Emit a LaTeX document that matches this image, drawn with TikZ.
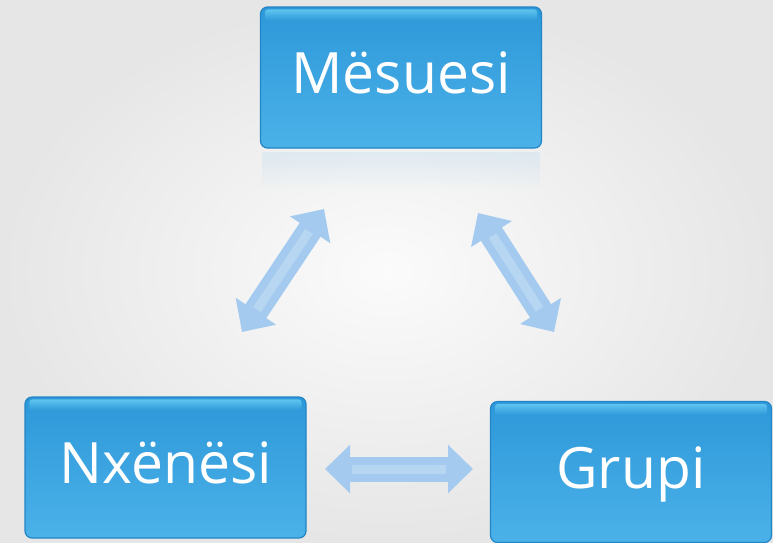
\documentclass[tikz,border=0pt]{standalone}
\usepackage{fontspec}
\setmainfont{Open Sans}
\usetikzlibrary{arrows.meta,fadings,calc}
\definecolor{bgout}{HTML}{E6E6E6}
\definecolor{bgin}{HTML}{FBFBFB}
\definecolor{boxedge}{HTML}{2285C6}
\definecolor{boxtop}{HTML}{2D98D9}
\definecolor{boxbot}{HTML}{4BB1E8}
\definecolor{boxhi}{HTML}{6FD3F7}
\definecolor{arrowblue}{HTML}{A4CBEF}
\definecolor{reflblue}{HTML}{B5D8F0}
\tikzfading[name=fadedown, top color=transparent!0, bottom color=transparent!100]
\tikzset{
  box/.style={rounded corners=7pt, draw=boxedge, line width=1.2pt,
    top color=boxtop, bottom color=boxbot, minimum width=281pt, minimum height=141pt,
    text=white, font=\fontsize{57}{64}\selectfont, inner sep=0pt,
    text height=41pt, text depth=9pt},
  fatarrow/.style={line width=25pt, draw=arrowblue,
    {Triangle[width=47pt,length=25pt]}-{Triangle[width=47pt,length=25pt]}},
  arrowhi/.style={line width=9pt, draw=white, opacity=0.22, shorten >=27pt, shorten <=27pt},
  hiband/.style={fill=boxhi, opacity=0.75, path fading=fadedown, rounded corners=3pt},
  refl/.style={fill=reflblue, opacity=0.3, path fading=fadedown}
}
\begin{document}
\begin{tikzpicture}[x=1pt,y=-1pt]
\useasboundingbox (0,0) rectangle (773,542);
\clip (0,0) rectangle (773,542);
\shade[inner color=bgin, outer color=bgout] (0,0) rectangle (773,542);

% boxes
\node[box] (m) at (401,77.5) {Mësuesi};
\node[box] (n) at (165.5,467.5) {Nxënësi};
\node[box] (g) at (631,472) {Grupi};

% highlight bands
\foreach \b in {m,n,g}{
  \fill[hiband] ($(\b.north west)+(5,3)$) rectangle ($(\b.north east)+(-5,14)$);
}

% reflection of the top box
\fill[refl] ($(m.south west)+(2,3)$) rectangle ($(m.south east)+(-2,42)$);

% arrows
\coordinate (l1) at (242,332);
\coordinate (l2) at (324,209);
\coordinate (r1) at (478,213);
\coordinate (r2) at (554,332);
\coordinate (h1) at (325,469);
\coordinate (h2) at (473,469);

\draw[fatarrow] (l1) -- (l2);
\draw[arrowhi] (l1) -- (l2);
\draw[fatarrow] (r1) -- (r2);
\draw[arrowhi] (r1) -- (r2);
\draw[fatarrow] (h1) -- (h2);
\draw[arrowhi] (h1) -- (h2);
\end{tikzpicture}
\end{document}
